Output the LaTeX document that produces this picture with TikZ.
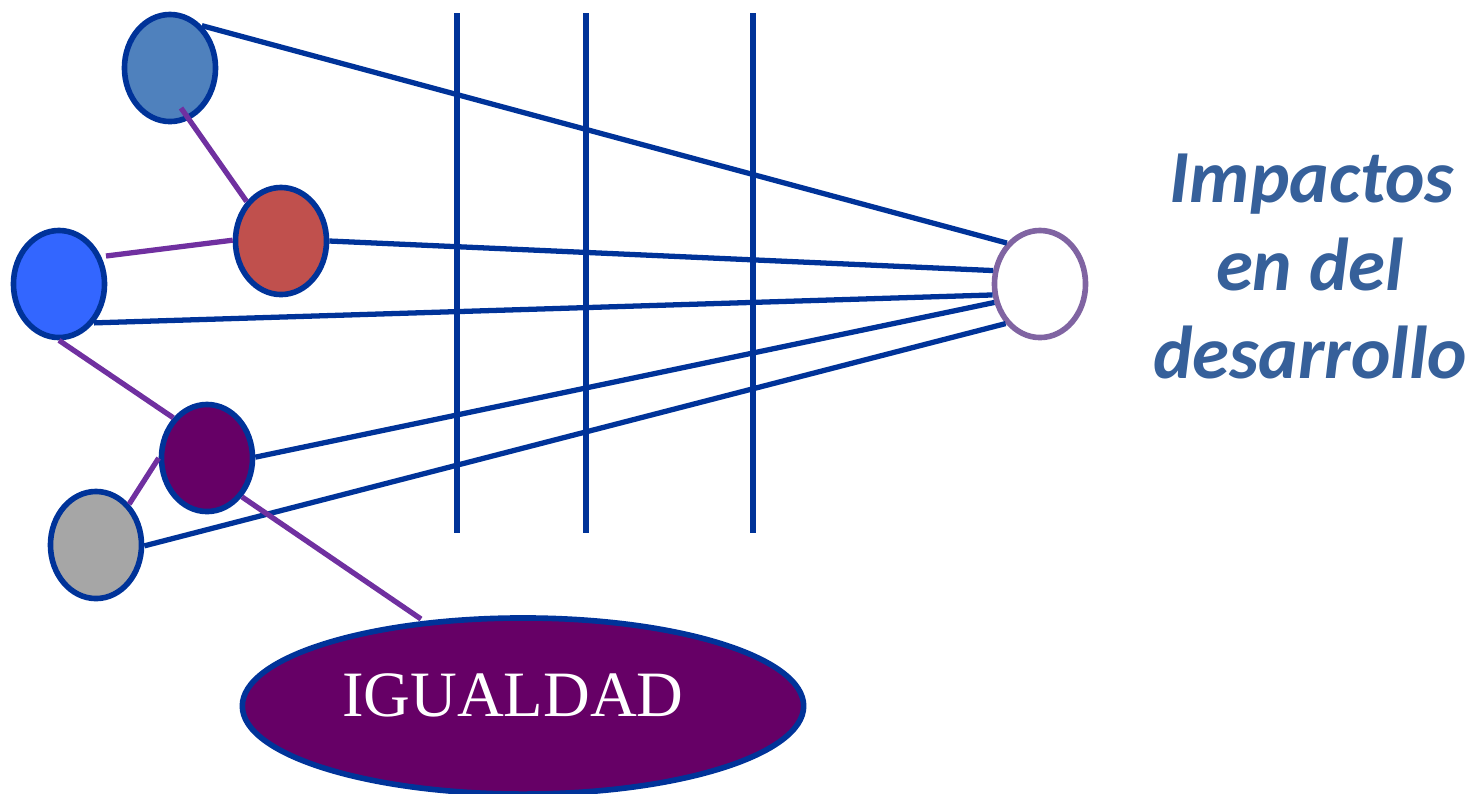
\documentclass[tikz,border=0pt]{standalone}
\usepackage{fontspec}
\setmainfont{Liberation Serif}
\newfontfamily\calib{Carlito}
\usetikzlibrary{shapes.geometric,calc}
\definecolor{lineblue}{HTML}{003399}
\definecolor{purpline}{HTML}{7030A0}
\definecolor{fillA}{HTML}{4F81BD}
\definecolor{fillR}{HTML}{C0504D}
\definecolor{fillB}{HTML}{3366FF}
\definecolor{fillP}{HTML}{660066}
\definecolor{fillG}{HTML}{A6A6A6}
\definecolor{borderW}{HTML}{8064A2}
\definecolor{textblue}{HTML}{36609A}
\begin{document}
\begin{tikzpicture}[x=0.01cm,y=-0.01cm,
  circ/.style={ellipse, draw=lineblue, line width=1.6pt, minimum width=0.91cm, minimum height=1.07cm, inner sep=0pt},
  blueline/.style={draw=lineblue, line width=1.5pt},
  purpleline/.style={draw=purpline, line width=1.5pt},
  vline/.style={draw=lineblue, line width=1.6pt},
  title/.style={anchor=base, text=textblue, font=\calib\bfseries\itshape\fontsize{21.3}{25}\selectfont}]
\useasboundingbox (0,0) rectangle (1470,793);

% vertical lines
\coordinate (v1t) at (457,13); \coordinate (v1b) at (457,533);
\coordinate (v2t) at (586,13); \coordinate (v2b) at (586,533);
\coordinate (v3t) at (753,13); \coordinate (v3b) at (753,533);
\draw[vline] (v1t) -- (v1b);
\draw[vline] (v2t) -- (v2b);
\draw[vline] (v3t) -- (v3b);

% nodes
\node[circ, fill=fillA] (A) at (170,68) {};
\node[circ, fill=fillR] (R) at (281,241) {};
\node[circ, fill=fillB] (B) at (59,284) {};
\node[circ, fill=fillP] (P) at (207,458) {};
\node[circ, fill=fillG] (G) at (96,545) {};
\node[circ, fill=white, draw=borderW] (W) at (1040,284) {};
\node[ellipse, draw=lineblue, line width=1.6pt, fill=fillP, minimum width=5.61cm, minimum height=1.76cm, inner sep=0pt] (E) at (523,706) {};
\node[text=white, font=\fontsize{18.4}{22}\selectfont] (Et) at (513,695) {IGUALDAD};

% blue connectors to W
\draw[blueline] (A.53.8) -- (W.129.5);
\draw[blueline] (R.0) -- (W.164.5);
\draw[blueline] (B.-48.9) -- (W.193);
\draw[blueline] (P.1) -- (W.202.9);
\draw[blueline] (G.-1) -- (W.229.8);

% purple connectors
\draw[purpleline] ($(A.center)+(11,40)$) -- (R.131);
\draw[purpleline] ($(B.center)+(47,-28)$) -- (R.179);
\draw[purpleline] (B.-90) -- (P.130);
\draw[purpleline] (P.180) -- (G.51.3);
\draw[purpleline] (P.-48.9) -- ($(E.center)+(-102,-87)$);

% title text
\node[title] (t1) at (1312,202) {Impactos};
\node[title] (t2) at (1310,290) {en del};
\node[title] (t3) at (1310,378) {desarrollo};
\end{tikzpicture}
\end{document}
